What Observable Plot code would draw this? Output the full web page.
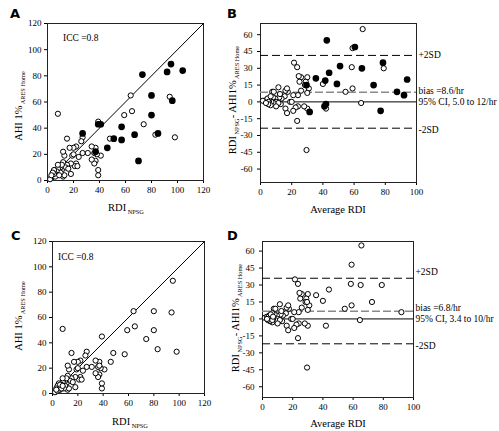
<!DOCTYPE html>
<html><head><meta charset="utf-8">
<script src="https://cdn.jsdelivr.net/npm/d3@7"></script>
<script src="https://cdn.jsdelivr.net/npm/@observablehq/plot@0.6"></script>
<style>
body{margin:0;background:#fff;}
#wrap{position:relative;width:499px;height:431px;overflow:hidden;background:#fff;}
.panel{position:absolute;}
.panel svg, .panel svg text{font-family:'Liberation Serif','Times New Roman',serif !important;}
#ov{position:absolute;left:0;top:0;pointer-events:none;}
</style></head><body><div id="wrap"></div>
<script>
// ---------- DATA ----------
// Panel A: RDI_NPSG (x) vs AHI 1% ARES Home (y)
const aOpen = [
[8,51],[64,65],[94,64],[65,53],[59,50],[74,43],[83,35],[98,33],[39,45],[48,32],[27,33],[26,30],[15,32],
[39,4],[39,8],[37,15],[36,13],[34,16],[41,19],[38,20],[36,21],[37,25],[34,26],[31,21],[27,21],[24,18],
[22,13],[21,11],[18,13],[18,5],[22,26],[20,25],[17,25],[19,19],[13,19],[12,22],[15,12],[14,10],[12,14],
[11,8],[10,10],[9,11],[8,9],[12,3],[13,4],[10,6],[7,7],[6,5],[5,8],[4,3],[3,2],[2,1],[6,3],[9,4],[5,5],
[4,6],[3,4],[16,9],[20,20],[11,12],[8,12],[23,11]
];
const aFilled = [
[73,81],[92,83],[95,89],[104,84],[80,65],[96,61],[80,50],[57,41],[67,35],[85,36],[51,32],[57,31],
[46,25],[70,15],[39,43],[41,43],[27,36],[37,22]
];
// Panel B: average RDI (x) vs difference (y)
const bOpen = [
[29.5,-43],[64.5,-1],[79,30],[59,12],[54.5,9],[58.5,31],[59,48],[65.5,65],[42,-6],[40,16],[30,-6],[28,-4],
[23.5,-17],[21.5,35],[23.5,31],[26,22],[24.5,23],[25,18],[30,22],[29,18],[28.5,15],[31,12],[30,8],[26,10],
[24,6],[21,6],[17.5,9],[16,10],[15.5,5],[11.5,13],[24,-4],[22.5,-5],[21,-8],[19,0],[16,-6],[17,-10],
[13.5,3],[12,4],[13,-2],[9.5,3],[10,0],[10,-2],[8.5,-1],[7.5,9],[8.5,9],[8,4],[7,0],[5.5,1],[6.5,-3],
[3.5,1],[2.5,1],[1.5,1],[4.5,3],[6.5,5],[5,0],[5,-2],[3.5,-1],[12.5,7],[20,0],[11.5,-1],[10,-4],[17,12]
];
const bFilled = [
[77,-8],[87.5,9],[92,6],[94,20],[72.5,15],[78.5,35],[65,30],[49,16],[51,32],[60.5,49],[41.5,19],[44,26],
[35.5,21],[42.5,55],[41,-4],[42,-2],[31.5,-9],[29.5,15]
];
// Panel C: all open
const cOpen = aOpen.concat([[95,89],[80,65],[80,50],[57,31],[46,25],[37,22],[4,2],[5,3],[7,4],[3,3],[6,7],[8,6]]);
// Panel D: all open
const dOpen = bOpen.concat([[92,6],[72.5,15],[65,30],[44,26],[35.5,21],[29.5,15],[3,2],[4,2],[5.5,4],[3,0],[6.5,-1],[7,2]]);

const bLines = {upper: 41.5, bias: 8.6, zero: 0, lower: -23.5};
const dLines = {upper: 36, bias: 6.8, zero: 0, lower: -22};
const bLabels = {upper: "+2SD", bias: "bias =8.6/hr", ci: "95% CI, 5.0 to 12/hr", lower: "-2SD"};
const dLabels = {upper: "+2SD", bias: "bias =6.8/hr", ci: "95% CI, 3.4 to 10/hr", lower: "-2SD"};

const xyTicks = [0,20,40,60,80,100,120];
const baTicksX = [0,20,40,60,80,100];
const baTicksY = [-60,-45,-30,-15,0,15,30,45,60];
const identityLine = [0,120];
const iccText = "ICC =0.8";

// ---------- DRAW ----------
const wrap = document.getElementById("wrap");
const serif = "'Liberation Serif','Times New Roman',serif";
const baseStyle = {fontFamily: serif, fontSize: "9px", color: "#000", background: "transparent", overflow: "visible"};
function place(el, left, top){const d=document.createElement("div");d.className="panel";d.style.left=left+"px";d.style.top=top+"px";d.appendChild(el);wrap.appendChild(d);}

function scatterPanel(openPts, filledPts, m){
  return Plot.plot({
    width: m.w, height: m.h, marginLeft: m.ml, marginRight: m.mr, marginTop: m.mt, marginBottom: m.mb,
    style: baseStyle,
    x: {domain: [0,120], ticks: xyTicks, tickSize: 3, tickPadding: 3, label: null, tickFormat: d => String(d)},
    y: {domain: [0,120], ticks: xyTicks, tickSize: 3, tickPadding: 3, label: null, tickFormat: d => String(d)},
    marks: [
      Plot.frame({stroke: "#222", strokeWidth: 1}),
      Plot.line(identityLine, {x: d => d, y: d => d, stroke: "#000", strokeWidth: 1}),
      Plot.dot(openPts, {x: d => d[0], y: d => d[1], r: 2.6, stroke: "#000", fill: "#fff", strokeWidth: 1}),
      filledPts ? Plot.dot(filledPts, {x: d => d[0], y: d => d[1], r: 2.6, fill: "#000", stroke: "#000"}) : null
    ]
  });
}

function baPanel(openPts, filledPts, lines, labels, m, off){
  const sdRefs = [lines.upper, lines.lower];
  const notes = [
    {v: lines.upper, t: labels.upper, dy: off.up},
    {v: lines.bias, t: labels.bias, dy: off.bias},
    {v: lines.bias, t: labels.ci, dy: off.ci},
    {v: lines.lower, t: labels.lower, dy: off.low}
  ];
  return Plot.plot({
    width: m.w, height: m.h, marginLeft: m.ml, marginRight: m.mr, marginTop: m.mt, marginBottom: m.mb,
    style: baseStyle,
    x: {domain: [0,100], ticks: baTicksX, tickSize: 3, tickPadding: 3, label: null, tickFormat: d => String(d)},
    y: {domain: m.yd, ticks: baTicksY, tickSize: 3, tickPadding: 5, label: null, tickFormat: d => String(d)},
    marks: [
      Plot.frame({stroke: "#222", strokeWidth: 1}),
      Plot.ruleY(sdRefs, {stroke: "#000", strokeWidth: 1, strokeDasharray: "8,4"}),
      Plot.ruleY([lines.bias], {stroke: "#8a8a8a", strokeWidth: 1.6, strokeDasharray: "8,3"}),
      Plot.ruleY([lines.zero], {stroke: "#000", strokeWidth: 1}),
      Plot.dot(openPts, {x: d => d[0], y: d => d[1], r: 2.6, stroke: "#000", fill: "#fff", strokeWidth: 1}),
      filledPts ? Plot.dot(filledPts, {x: d => d[0], y: d => d[1], r: 2.6, fill: "#000", stroke: "#000"}) : null,
      ...notes.map(o => Plot.text([o], {y: "v", text: "t", frameAnchor: "right", textAnchor: "start", dx: 2, dy: o.dy, fontSize: 9.5, fill: "#000"}))
    ]
  });
}

place(scatterPanel(aOpen, aFilled, {w:250,h:215,ml:47,mr:47,mt:23,mb:35}), 0, 0);
place(scatterPanel(cOpen, null, {w:250,h:216,ml:52,mr:46,mt:26,mb:38}), 0, 215);
place(baPanel(bOpen, bFilled, bLines, bLabels, {w:299,h:215,ml:60,mr:83,mt:23,mb:33,yd:[-72,70]}, {up:0,bias:-1,ci:10,low:1.5}), 200, 0);
place(baPanel(dOpen, null, dLines, dLabels, {w:299,h:216,ml:62,mr:86,mt:26,mb:34,yd:[-69.5,68.5]}, {up:-6,bias:-3,ci:8,low:2}), 200, 215);

// ---------- overlay text ----------
const ov = d3.select(wrap).append("svg").attr("id","ov").attr("width",499).attr("height",431);
function letter(s, x, y){ov.append("text").attr("x",x).attr("y",y).text(s).style("font-family","'DejaVu Sans',Arial,sans-serif").style("font-weight","bold").style("font-size","13px");}
letter("A",10,18); letter("B",227,18); letter("C",11,240); letter("D",227,240);
function plain(s,x,y,size){ov.append("text").attr("x",x).attr("y",y).text(s).style("font-family",serif).style("font-size",size+"px");}
plain(iccText,63,41,9.5); plain(iccText,58,260,9.5);
function label(parts, x, y, rotate){
  const t = ov.append("text").attr("text-anchor","middle").style("font-family",serif).style("font-size","10.5px")
    .attr("transform", `translate(${x},${y})` + (rotate ? " rotate(-90)" : ""));
  let shifted = false;
  parts.forEach(([s, sub]) => {
    const sp = t.append("tspan").text(s);
    if (sub) { sp.attr("font-size", 6.3).attr("dy", shifted ? 0 : 3); shifted = true; }
    else { if (shifted) sp.attr("dy", -3); shifted = false; }
  });
}
const yLabAHI = [["AHI 1%",false],[" ARES Home",true]];
const yLabDiff = [["RDI",false],[" NPSG",true],["- AHI1%",false],[" ARES Home",true]];
const xLabRDI = [["RDI",false],[" NPSG",true]];
const xLabAvg = [["Average RDI",false]];
label(yLabAHI, 22, 106, true); label(yLabAHI, 22, 316, true);
label(yLabDiff, 236, 100, true); label(yLabDiff, 239, 318, true);
label(xLabRDI, 126, 211, false); label(xLabRDI, 130, 425, false);
label(xLabAvg, 338, 213, false); label(xLabAvg, 338, 427, false);
</script></body></html>
